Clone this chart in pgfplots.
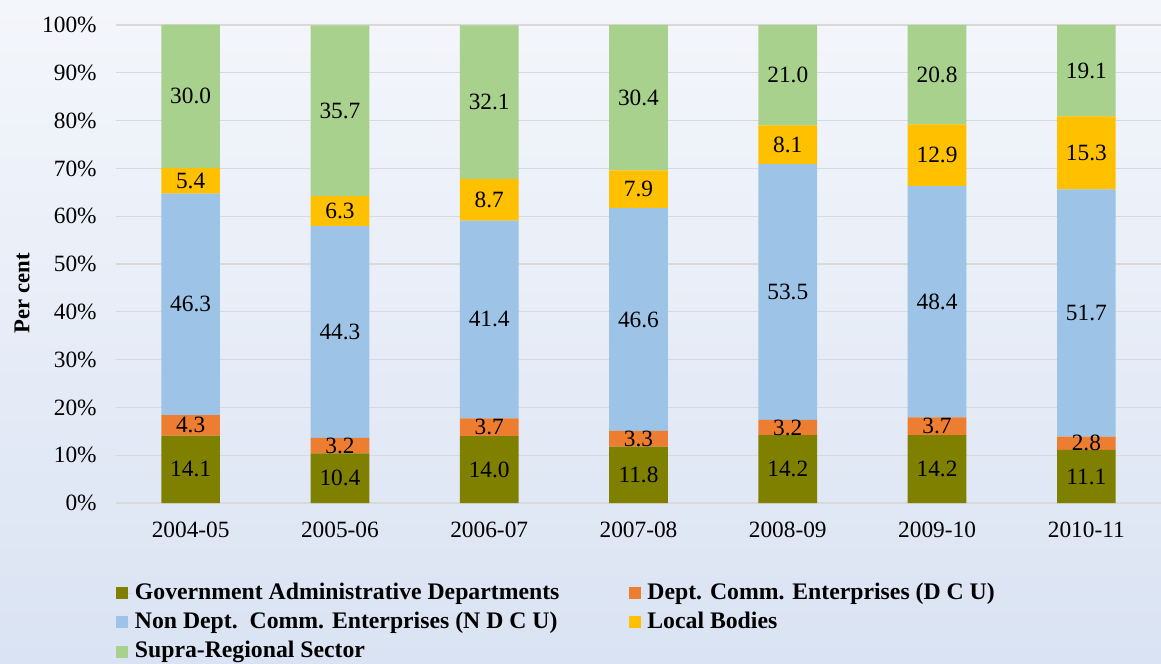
\documentclass[border=0pt]{standalone}
\usepackage{pgfplots}
\pgfplotsset{compat=1.18}
\usetikzlibrary{backgrounds}
\usepackage{fontspec}
\setmainfont{Liberation Serif}
\definecolor{cGov}{HTML}{7F7F00}
\definecolor{cDCU}{HTML}{ED7D31}
\definecolor{cNDCU}{HTML}{9DC3E6}
\definecolor{cLB}{HTML}{FFC000}
\definecolor{cSR}{HTML}{A9D18E}
\definecolor{bgtop}{HTML}{F4F6FB}
\definecolor{bgbot}{HTML}{DAE3F3}
\definecolor{gridc}{HTML}{D9D9D9}
\begin{document}
\begin{tikzpicture}
\begin{axis}[
  scale only axis,
  width=783.75pt, height=358.86pt,
  ybar stacked, bar width=44pt,
  xmin=-0.5, xmax=6.5, ymin=0, ymax=100.1,
  xtick={0,1,2,3,4,5,6},
  xticklabels={2004-05,2005-06,2006-07,2007-08,2008-09,2009-10,2010-11},
  ytick={0,10,...,100},
  yticklabel={\pgfmathprintnumber{\tick}\%},
  ymajorgrids, grid style={gridc, line width=0.9pt},
  axis line style={draw=none}, major tick length=0pt,
  tick label style={font=\fontsize{17.5}{20}\selectfont},
  xticklabel style={yshift=-11pt},
  yticklabel style={xshift=-11pt},
  /pgf/number format/assume math mode=true,
  nodes near coords={\pgfmathprintnumber[fixed,fixed zerofill,precision=1]{\rawy}},
  visualization depends on=rawy\as\rawy,
  every node near coord/.append style={text=black, font=\fontsize{17.5}{20}\selectfont, anchor=center},
  every axis plot post/.append style={legend image code/.code={\fill[##1] (0pt,-4.5pt) rectangle (9pt,4.5pt); \path (0pt,0pt) -- (12pt,0pt);}},
  legend columns=2,
  legend cell align=left,
  legend style={at={(0,-0.158)}, anchor=north west, draw=none, fill=none, inner sep=0pt,
    font=\bfseries\fontsize{17.8}{21}\selectfont,
    nodes={text height=12.5pt, text depth=3.5pt, inner ysep=2.9pt},
    /tikz/every even column/.append style={column sep=50pt}},
]
\addplot[fill=cGov, draw=none] coordinates {(0,14.1) (1,10.4) (2,14.0) (3,11.8) (4,14.2) (5,14.2) (6,11.1)};
\addplot[fill=cDCU, draw=none] coordinates {(0,4.3) (1,3.2) (2,3.7) (3,3.3) (4,3.2) (5,3.7) (6,2.8)};
\addplot[fill=cNDCU, draw=none] coordinates {(0,46.3) (1,44.3) (2,41.4) (3,46.6) (4,53.5) (5,48.4) (6,51.7)};
\addplot[fill=cLB, draw=none] coordinates {(0,5.4) (1,6.3) (2,8.7) (3,7.9) (4,8.1) (5,12.9) (6,15.3)};
\addplot[fill=cSR, draw=none] coordinates {(0,30.0) (1,35.7) (2,32.1) (3,30.4) (4,21.0) (5,20.8) (6,19.1)};
\legend{Government Administrative Departments, Dept. Comm. Enterprises (D C U), Non Dept.\ \ Comm. Enterprises (N D C U), Local Bodies, Supra-Regional Sector}
\coordinate (O) at (rel axis cs:0,0);
\end{axis}
\begin{scope}[shift={(O)}, xshift=-87pt, yshift=-120.75pt, x=1pt, y=1pt]
\node[rotate=90, font=\bfseries\fontsize{17}{20}\selectfont] at (16.5,278) {Per cent};
\begin{pgfonlayer}{background}
\shade[top color=bgtop, bottom color=bgbot] (0,0) rectangle (870.75,498);
\end{pgfonlayer}
\end{scope}
\pgfresetboundingbox
\begin{scope}[shift={(O)}, xshift=-87pt, yshift=-120.75pt, x=1pt, y=1pt]
\useasboundingbox (0,0) rectangle (870.75,498);
\end{scope}
\end{tikzpicture}
\end{document}
